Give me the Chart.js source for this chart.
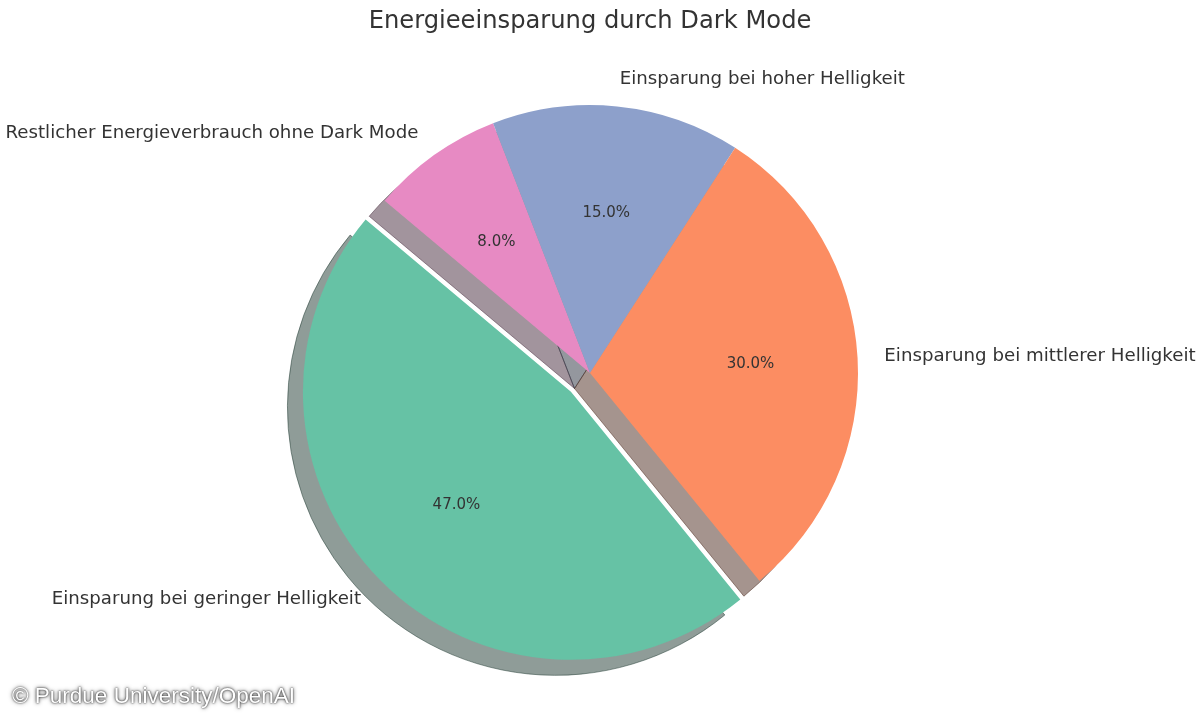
<!DOCTYPE html>
<html>
<head>
<meta charset="utf-8">
<title>Energieeinsparung durch Dark Mode</title>
<script src="https://cdn.jsdelivr.net/npm/chart.js@4.4.1/dist/chart.umd.min.js"></script>
<style>
  body { margin: 0; background: #fff; }
  #wrap { position: relative; width: 1200px; height: 720px; }
  #credit {
    position: absolute; left: 12px; top: 683px;
    font-family: 'Liberation Sans', Arial, sans-serif; font-size: 22.5px;
    color: #fff;
    text-shadow: 0 0 2px rgba(0,0,0,0.9), 0 0 4px rgba(0,0,0,0.7);
  }
</style>
</head>
<body>
<div id="wrap">
  <canvas id="pie-chart"></canvas>
  <div id="credit">© Purdue University/OpenAI</div>
</div>
<script>
// data, in the order of the original chart (counter-clockwise from 140°)
const categories = [
  'Einsparung bei geringer Helligkeit',
  'Einsparung bei mittlerer Helligkeit',
  'Einsparung bei hoher Helligkeit',
  'Restlicher Energieverbrauch ohne Dark Mode'
];
const shares = [47, 30, 15, 8];

// styling
const colors = ['#66c2a5', '#fc8d62', '#8da0cb', '#e78ac3'];
const explode = [0.1, 0, 0, 0];

// Chart.js goes clockwise, so feed the slices in reverse
const order = [3, 2, 1, 0];
const total = shares.reduce(function (a, b) { return a + b; }, 0);

function shadowColor(hex) {
  var n = parseInt(hex.slice(1), 16);
  var r = Math.round(((n >> 16) & 255) * 0.3);
  var g = Math.round(((n >> 8) & 255) * 0.3);
  var b = Math.round((n & 255) * 0.3);
  return 'rgba(' + r + ',' + g + ',' + b + ',0.5)';
}

var pieDecor = {
  id: 'pieDecor',
  beforeDatasetsDraw: function (chart) {
    var ctx = chart.ctx;
    var area = chart.chartArea;
    var cx = (area.left + area.right) / 2;
    var cy = (area.top + area.bottom) / 2;
    var meta = chart.getDatasetMeta(0);
    // explode slices
    meta.data.forEach(function (el, i) {
      var k = order[i];
      var mid = (el.startAngle + el.endAngle) / 2;
      el.x = cx + Math.cos(mid) * explode[k] * el.outerRadius;
      el.y = cy + Math.sin(mid) * explode[k] * el.outerRadius;
    });
    // shadows under all slices
    meta.data.forEach(function (el, i) {
      var k = order[i];
      var sx = el.x - 15.5, sy = el.y + 15.5;
      ctx.save();
      ctx.beginPath();
      ctx.moveTo(sx, sy);
      ctx.arc(sx, sy, el.outerRadius, el.startAngle, el.endAngle);
      ctx.closePath();
      ctx.fillStyle = shadowColor(colors[k]);
      ctx.strokeStyle = shadowColor(colors[k]);
      ctx.lineWidth = 1;
      ctx.fill();
      ctx.stroke();
      ctx.restore();
    });
  },
  afterDatasetsDraw: function (chart) {
    var ctx = chart.ctx;
    var meta = chart.getDatasetMeta(0);
    meta.data.forEach(function (el, i) {
      var k = order[i];
      var mid = (el.startAngle + el.endAngle) / 2;
      var r = el.outerRadius;
      ctx.save();
      ctx.fillStyle = '#333333';
      ctx.textBaseline = 'middle';
      // category label
      ctx.font = '18.2px "DejaVu Sans"';
      var lx = el.x + Math.cos(mid) * r * 1.1;
      var ly = el.y + Math.sin(mid) * r * 1.1;
      ctx.textAlign = Math.cos(mid) > 0 ? 'left' : 'right';
      ctx.fillText(categories[k], lx, ly);
      // percentage
      ctx.font = '15px "DejaVu Sans"';
      ctx.textAlign = 'center';
      var pct = (shares[k] / total * 100).toFixed(1) + '%';
      ctx.fillText(pct, el.x + Math.cos(mid) * r * 0.6, el.y + Math.sin(mid) * r * 0.6);
      ctx.restore();
    });
  }
};

document.addEventListener('DOMContentLoaded', function () {
  Chart.defaults.font.family = '"DejaVu Sans", sans-serif';
  var ctx = document.getElementById('pie-chart').getContext('2d');
  var myChart = new Chart(ctx, {
    type: 'pie',
    data: {
      labels: order.map(function (k) { return categories[k]; }),
      datasets: [{
        data: order.map(function (k) { return shares[k]; }),
        backgroundColor: order.map(function (k) { return colors[k]; }),
        borderWidth: 0
      }]
    },
    options: {
      responsive: true,
      maintainAspectRatio: false,
      animation: false,
      events: [],
      rotation: -50,
      radius: 268,
      layout: {
        padding: { left: 0, right: 20, top: 0, bottom: 10 }
      },
      plugins: {
        legend: { display: false },
        tooltip: { enabled: false },
        title: {
          display: true,
          text: 'Energieeinsparung durch Dark Mode',
          color: '#333333',
          font: { size: 24.2, weight: 'normal' },
          padding: { top: 7, bottom: 0 }
        }
      }
    },
    plugins: [pieDecor]
  });
});
</script>
</body>
</html>
